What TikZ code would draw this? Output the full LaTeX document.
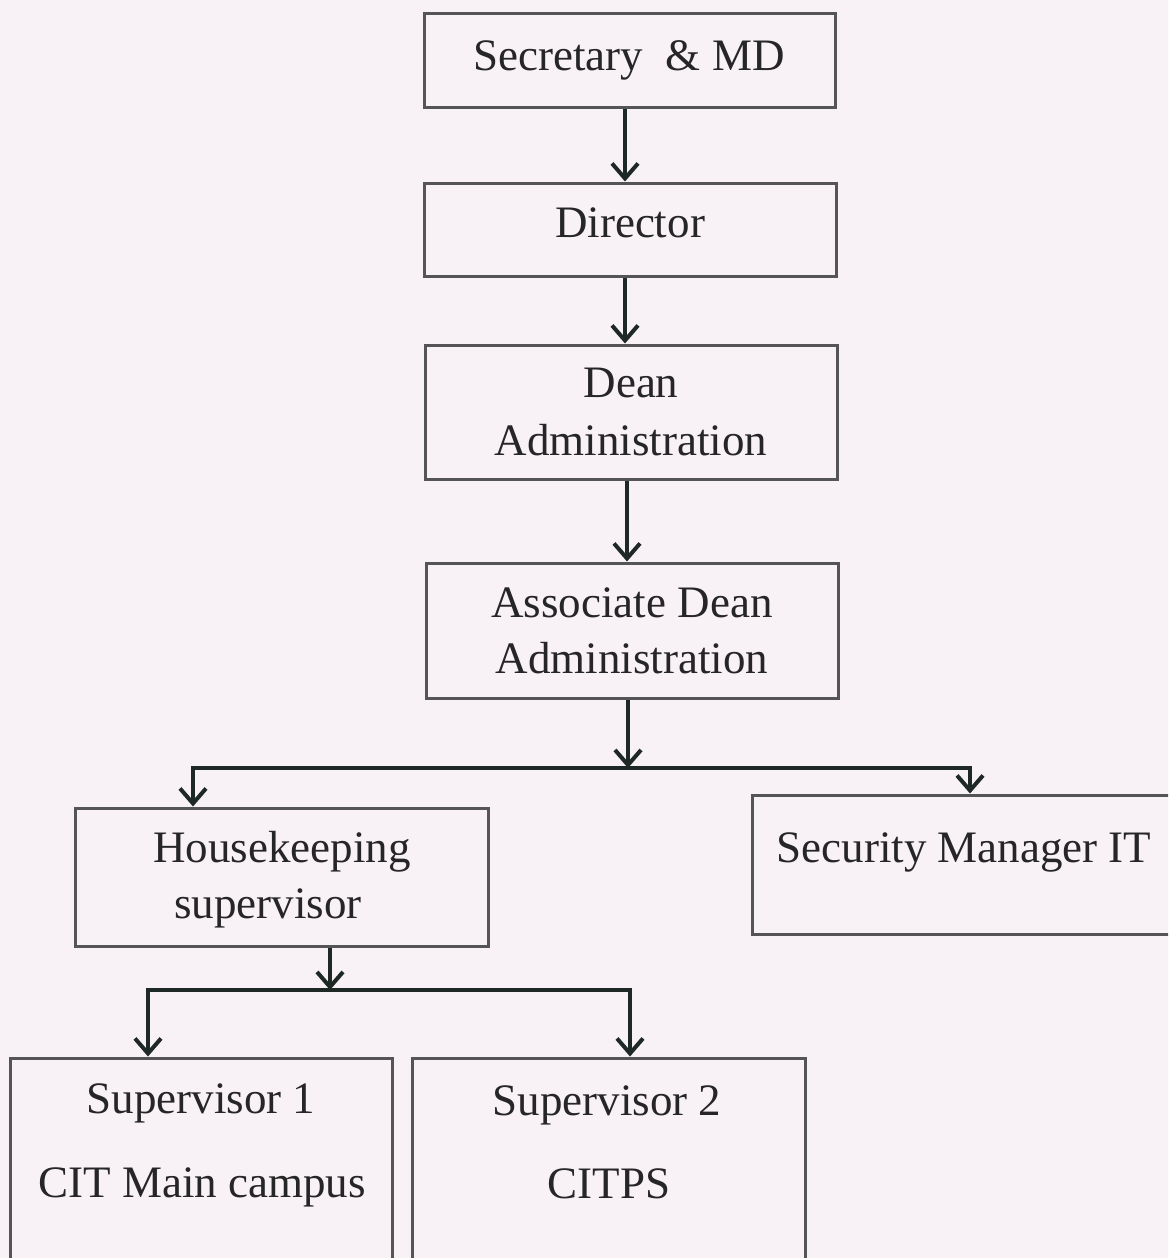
\documentclass[tikz,border=0pt]{standalone}
\usepackage{fontspec}
\setmainfont{Liberation Serif}
\usetikzlibrary{arrows.meta}
\definecolor{bgc}{HTML}{F8F1F6}
\definecolor{boxc}{HTML}{555555}
\definecolor{arrc}{HTML}{1E2926}
\definecolor{txtc}{HTML}{262626}
\tikzset{
  orgbox/.style={draw=boxc, line width=3pt, rectangle, inner sep=0pt},
  lbl/.style={anchor=base, inner sep=0pt, text=txtc, font=\fontsize{45}{54}\selectfont},
  arr/.style={draw=arrc, line width=4pt, -{Straight Barb[length=15pt,width=26pt]}},
  arrtwo/.style={draw=arrc, line width=4pt, line join=miter,
     {Straight Barb[length=15pt,width=26pt]}-{Straight Barb[length=15pt,width=26pt]}}
}
\begin{document}
\begin{tikzpicture}[x=1pt,y=-1pt]
\useasboundingbox (0,0) rectangle (1168,1258);
\clip (0,0) rectangle (1168,1258);
\fill[bgc] (-5,-5) rectangle (1175,1265);

% boxes
\node[orgbox, minimum width=411pt, minimum height=94pt] (sec) at (629.5,60) {};
\node[orgbox, minimum width=412pt, minimum height=93pt] (dir) at (630,229.5) {};
\node[orgbox, minimum width=412pt, minimum height=134pt] (dean) at (631,412) {};
\node[orgbox, minimum width=412pt, minimum height=135pt] (assoc) at (632,630.5) {};
\node[orgbox, minimum width=413pt, minimum height=138pt] (house) at (281.5,877) {};
\node[orgbox, minimum width=428pt, minimum height=139pt] (secmgr) at (966,864.5) {};
\node[orgbox, minimum width=382pt, minimum height=212pt] (sup1) at (201,1164) {};
\node[orgbox, minimum width=393pt, minimum height=212pt] (sup2) at (608.5,1164) {};

% labels
\node[lbl] (t1) at (629,70) {Secretary\ \ \&\ MD};
\node[lbl] (t2) at (630,237) {Director};
\node[lbl] (t3a) at (631,397) {Dean};
\node[lbl] (t3b) at (631,455) {Administration};
\node[lbl] (t4a) at (632,617) {Associate Dean};
\node[lbl] (t4b) at (632,673) {Administration};
\node[lbl] (t5a) at (282,862) {Housekeeping};
\node[lbl] (t5b) at (268,918) {supervisor};
\node[lbl] (t6) at (964,862) {Security Manager IT};
\node[lbl] (t7a) at (201,1113) {Supervisor 1};
\node[lbl] (t7b) at (202,1197) {CIT Main campus};
\node[lbl] (t8a) at (607,1115) {Supervisor 2};
\node[lbl] (t8b) at (609,1198) {CITPS};

% connectors
\coordinate (c1) at (625,0);
\draw[arr] (sec.south -| c1) -- (dir.north -| c1);
\draw[arr] (dir.south -| c1) -- (dean.north -| c1);
\coordinate (c2) at (627,0);
\draw[arr] (dean.south -| c2) -- (assoc.north -| c2);

\coordinate (j1) at (628,768);
\coordinate (j1l) at (193,768);
\coordinate (j1r) at (970,768);
\draw[arr] (assoc.south -| j1) -- (j1);
\draw[arrtwo] (house.north -| j1l) -- (j1l) -- (j1r) -- (secmgr.north -| j1r);

\coordinate (j2) at (330,990);
\coordinate (j2l) at (148,990);
\coordinate (j2r) at (630,990);
\draw[arr] (house.south -| j2) -- (j2);
\draw[arrtwo] (sup1.north -| j2l) -- (j2l) -- (j2r) -- (sup2.north -| j2r);
\end{tikzpicture}
\end{document}
